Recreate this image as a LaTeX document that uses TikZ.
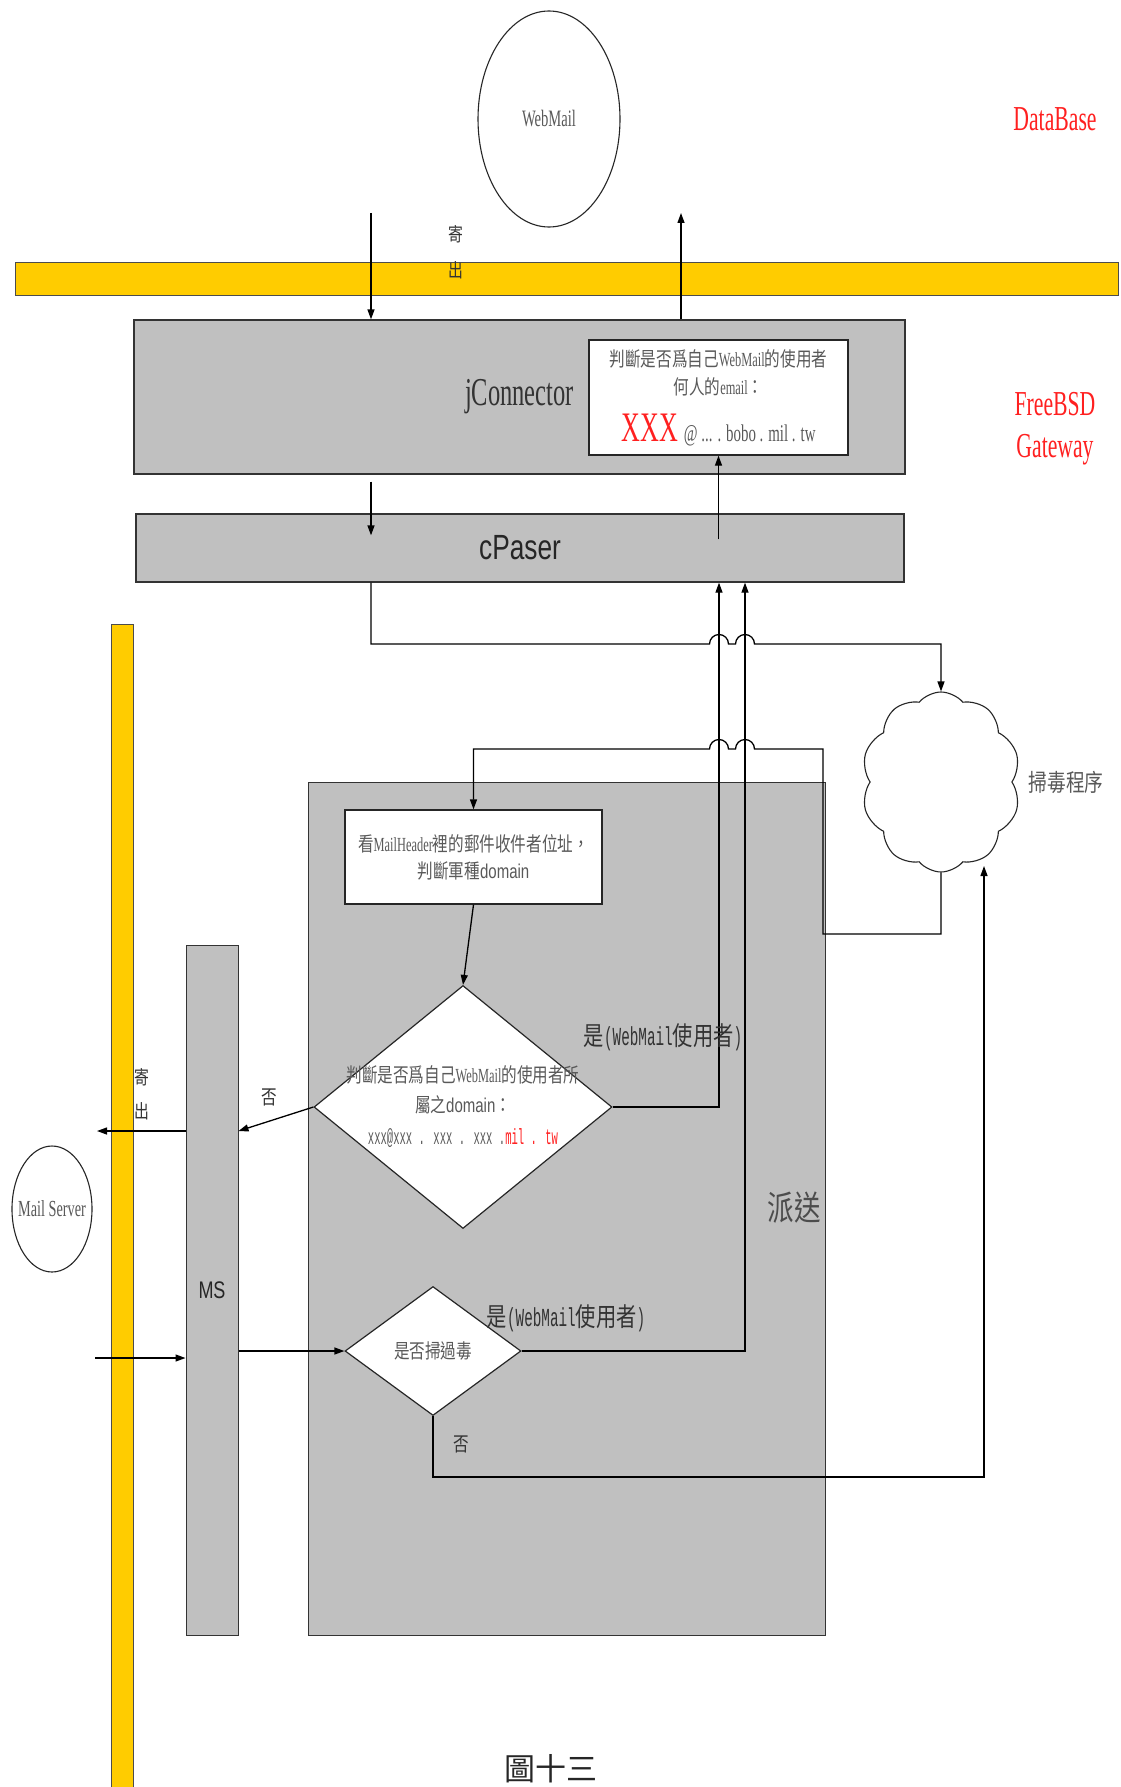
\documentclass[tikz,border=0pt]{standalone}
\usepackage{fontspec}
\usepackage{xcolor}
\usepackage{tikz}
\usetikzlibrary{arrows.meta,shapes.geometric,shapes.symbols,calc}

\newfontfamily\cjk[FakeStretch=0.78]{Noto Sans CJK TC}
\newfontfamily\cjkplain{Noto Sans CJK TC}
\newfontfamily\nser[FakeStretch=0.62]{Liberation Serif}
\newfontfamily\nsans[FakeStretch=0.75]{Liberation Sans}
\newfontfamily\nmono[FakeStretch=0.55]{Liberation Mono}
\newfontfamily\tmono[FakeStretch=0.48]{Liberation Mono}

\definecolor{busyellow}{HTML}{FFCC00}
\definecolor{boxgray}{HTML}{C0C0C0}
\definecolor{labelred}{HTML}{FF2020}
\colorlet{txtgray}{black!65}

\begin{document}
\begin{tikzpicture}[
    x=1pt, y=-1pt,
    bus/.style={
        rectangle,
        draw=black!70,
        fill=busyellow,
        line width=1pt,
        inner sep=0pt
    },
    layerbox/.style={
        rectangle,
        draw=black!80,
        fill=boxgray,
        line width=1.3pt,
        inner sep=0pt
    },
    notebox/.style={
        rectangle,
        draw=black!85,
        fill=white,
        line width=1.3pt,
        inner sep=0pt,
        align=center,
        text=txtgray
    },
    decision/.style={
        diamond,
        draw=black!85,
        fill=white,
        line width=1.2pt,
        inner sep=0pt,
        aspect=1
    },
    storage/.style={
        ellipse,
        draw=black!85,
        line width=1.1pt,
        inner sep=0pt,
        text=txtgray
    },
    tag/.style={
        text=labelred,
        font=\nser\fontsize{35}{42}\selectfont,
        align=center
    },
    hanzi/.style={
        font=\cjk\fontsize{20}{36}\selectfont,
        align=center,
        text=black!80
    },
    arrow/.style={
        -{Triangle[length=10pt,width=7pt]},
        line width=1.3pt
    }
]

\path[use as bounding box, fill=white] (0,0) rectangle (1120,1787);

% =========================
% Buses
% =========================

\node[bus, minimum width=1103pt, minimum height=32pt] (dbbus) at (566.5,279) {};

\node[bus, minimum width=22pt, minimum height=1163pt] (mailbus) at (122,1205.5) {};

% =========================
% Gateway layer
% =========================

\node[storage, minimum width=142pt, minimum height=216pt,
      font=\nser\fontsize{23.5}{28}\selectfont] (webmail) at (549,119)
{WebMail};

\node[tag] (dblabel) at (1055,119)
{DataBase};

\node[layerbox, minimum width=771pt, minimum height=154pt,
      font=\nser\fontsize{39.5}{44}\selectfont, text=black!80] (jconn) at (519.5,397)
{jConnector};

\node[notebox, minimum width=259pt, minimum height=115pt,
      font=\fontsize{20}{28}\selectfont] (chk) at (718.5,397.5)
{{\cjk 判斷是否爲自己}{\nser WebMail}{\cjk 的使用者}\\
 {\cjk 何人的}{\nser email}{\cjk ：}\\[17pt]
 {\nser\fontsize{42}{44}\selectfont\color{labelred}XXX}\ {\nser\fontsize{24}{28}\selectfont @ ... . bobo . mil . tw}};

\node[tag] (gwlabel) at (1055,429)
{FreeBSD\\Gateway};

\node[layerbox, minimum width=768pt, minimum height=68pt,
      font=\nsans\fontsize{35}{40}\selectfont, text=black!85] (cpaser) at (520,548)
{cPaser};

\node[cloud, draw=black!85, fill=white, line width=1.1pt, cloud puffs=10,
      cloud puff arc=100, aspect=0.8, minimum width=159pt, minimum height=180pt,
      inner sep=0pt] (scan) at (941,782) {};

\node[hanzi, font=\cjk\fontsize{24}{28}\selectfont, text=txtgray] (scanlabel) at (1066,782)
{掃毒程序};

% =========================
% Dispatch area
% =========================

\node[layerbox, line width=1pt, minimum width=517pt, minimum height=853pt] (dispatch) at (566.5,1208.5) {};

\node[hanzi, font=\cjk\fontsize{34}{40}\selectfont, text=black!70] (dispatchlabel) at (794,1208)
{派送};

\node[notebox, minimum width=257pt, minimum height=94pt,
      font=\fontsize{20}{27}\selectfont] (hdr) at (473.5,857)
{{\cjk 看}{\nser MailHeader}{\cjk 裡的郵件收件者位址，}\\
 {\cjk 判斷軍種}{\nsans domain}};

\node[decision, minimum width=298pt, minimum height=243pt,
      label={[align=center, text=txtgray, font=\fontsize{20}{30}\selectfont]center:
      {\cjk 判斷是否爲自己}{\nser WebMail}{\cjk 的使用者所}\\
      {\cjk 屬之}{\nsans domain}{\cjk ：}\\[2pt]
      {\tmono\fontsize{22}{30}\selectfont xxx@xxx . xxx . xxx .\textcolor{labelred}{mil . tw}}}] (owner) at (463,1107) {};

\node[decision, minimum width=176pt, minimum height=129pt,
      font=\cjk\fontsize{20}{24}\selectfont, text=txtgray] (scanned) at (433,1351)
{是否掃過毒};

\node[layerbox, line width=1pt, minimum width=52pt, minimum height=690pt,
      font=\nsans\fontsize{24}{28}\selectfont, text=black!85] (ms) at (212,1290)
{MS};

\node[storage, minimum width=80pt, minimum height=126pt,
      label={[font=\nser\fontsize{23}{28}\selectfont, text=txtgray]center:Mail Server}] (mailsrv) at (52,1209) {};

% =========================
% Routing points
% =========================

\coordinate (colA) at (719,0);
\coordinate (colB) at (745,0);
\coordinate (rowA) at (0,644);
\coordinate (rowB) at (0,749);
\coordinate (dbout) at (371,213);
\coordinate (dbin) at (681,213);
\coordinate (retcol) at (823,934);
\coordinate (sendrow) at (0,1131);
\coordinate (mailout) at (97,1131);
\coordinate (mailin) at (95,1358);
\coordinate (noscan) at (984,1477);
\coordinate (scanin) at (984,866);

% =========================
% Gateway flow
% =========================

\draw[arrow] (dbout) -- (dbout |- jconn.north);
\draw[arrow] (dbin |- jconn.north) -- (dbin);
\draw[arrow] ([yshift=-7pt]jconn.south -| dbout) -- ([yshift=-22pt]cpaser.north -| dbout);
\draw[arrow] ([yshift=-26pt]cpaser.north -| chk.south) -- (chk.south);

\draw[arrow]
(cpaser.south -| dbout)
|- ([xshift=-9.5pt]colA |- rowA)
arc[start angle=180, end angle=360, radius=9.5]
-- ([xshift=-9.5pt]colB |- rowA)
arc[start angle=180, end angle=360, radius=9.5]
-| (scan.north);

\draw[arrow]
(scan.south)
|- (retcol)
-- (retcol |- rowB)
-- ([xshift=9.5pt]colB |- rowB)
arc[start angle=0, end angle=-180, radius=9.5]
-- ([xshift=9.5pt]colA |- rowB)
arc[start angle=0, end angle=-180, radius=9.5]
-| (hdr.north);

% =========================
% Dispatch flow
% =========================

\draw[arrow] (hdr.south) -- (owner.north);
\draw[arrow] (owner.east) -| (colA |- cpaser.south);
\draw[arrow] (scanned.east) -| (colB |- cpaser.south);
\draw[arrow] (owner.west) -- (ms.east |- sendrow);
\draw[arrow] (ms.west |- sendrow) -- (mailout);
\draw[arrow] (mailin) -- (mailin -| ms.west);
\draw[arrow] (scanned.west -| ms.east) -- (scanned.west);
\draw[arrow] (scanned.south) |- (noscan) -- (scanin);

% =========================
% Labels
% =========================

\node[hanzi, font=\cjk\fontsize{19}{36}\selectfont] (sendtop) at (456,252) {寄\\出};
\node[hanzi, font=\cjk\fontsize{19}{34}\selectfont] (sendleft) at (142,1094) {寄\\出};

\node[hanzi, font=\fontsize{26}{30}\selectfont] (yesowner) at (663,1037)
{{\cjk 是}{\nmono (WebMail}{\cjk 使用者}{\nmono )}};
\node[hanzi, font=\fontsize{26}{30}\selectfont] (yesscanned) at (566,1318)
{{\cjk 是}{\nmono (WebMail}{\cjk 使用者}{\nmono )}};

\node[hanzi] (noowner) at (269,1097) {否};
\node[hanzi] (noscanned) at (461,1444) {否};

\node[font=\cjkplain\fontsize{31}{36}\selectfont, text=black!85] (caption) at (551,1769) {圖十三};

\end{tikzpicture}
\end{document}
